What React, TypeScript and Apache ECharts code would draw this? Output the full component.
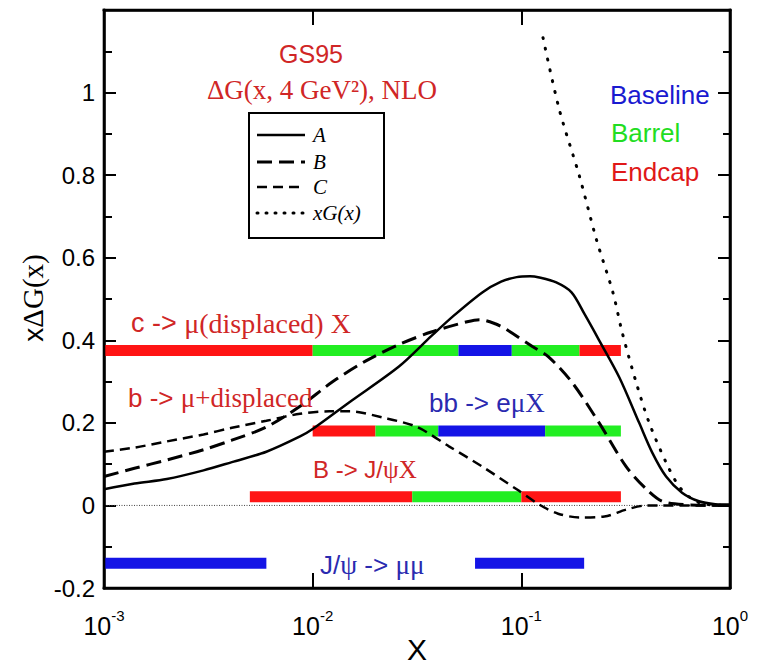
import React, { useEffect, useRef } from "react";
import * as echarts from "echarts";

// ---------- data ----------
const xTicks = [0.001, 0.01, 0.1, 1];
const yMin = -0.2;
const yMax = 1.2;
const yStep = 0.2;

const curveA: [number, number][] = [
  [0.001, 0.039], [0.0014, 0.053], [0.002, 0.064], [0.003, 0.085], [0.0041, 0.105],
  [0.006, 0.13], [0.0087, 0.167], [0.01, 0.185], [0.015, 0.25], [0.026, 0.337],
  [0.037, 0.41], [0.047, 0.458], [0.065, 0.516], [0.08, 0.542], [0.095, 0.553],
  [0.11, 0.555], [0.122, 0.552], [0.147, 0.54], [0.174, 0.516], [0.2, 0.465],
  [0.236, 0.4], [0.295, 0.31], [0.367, 0.2], [0.424, 0.128], [0.494, 0.07],
  [0.589, 0.031], [0.71, 0.01], [0.85, 0.003], [1, 0.002],
];
const curveB: [number, number][] = [
  [0.001, 0.07], [0.0014, 0.09], [0.002, 0.11], [0.003, 0.135], [0.0041, 0.158],
  [0.006, 0.19], [0.0087, 0.24], [0.0125, 0.3], [0.018, 0.35], [0.026, 0.39],
  [0.037, 0.42], [0.055, 0.445], [0.063, 0.45], [0.075, 0.44], [0.085, 0.426],
  [0.113, 0.385], [0.135, 0.36], [0.175, 0.298], [0.236, 0.2], [0.318, 0.094],
  [0.398, 0.039], [0.473, 0.01], [0.6, 0.002], [1, 0],
];
const curveC: [number, number][] = [
  [0.001, 0.13], [0.0014, 0.14], [0.002, 0.155], [0.003, 0.172], [0.0041, 0.188],
  [0.006, 0.205], [0.0087, 0.222], [0.012, 0.228], [0.015, 0.228], [0.0216, 0.213],
  [0.0316, 0.19], [0.045, 0.143], [0.065, 0.094], [0.095, 0.039], [0.122, 0.002],
  [0.15, -0.02], [0.19, -0.029], [0.25, -0.027], [0.318, -0.01], [0.4, 0], [1, 0],
];
const curveXG: [number, number][] = [
  [0.127, 1.133], [0.152, 0.959], [0.19, 0.797], [0.229, 0.644], [0.275, 0.515],
  [0.304, 0.42], [0.355, 0.298], [0.41, 0.2], [0.494, 0.104], [0.57, 0.046],
  [0.66, 0.015], [0.76, 0.003], [1, 0],
];
const zeroLine: [number, number][] = [[0.001, 0], [1, 0]];

// coverage bars: [xStart, xEnd, detector]  (L = Baseline, B = Barrel, E = Endcap)
const cMuY = 0.375;
const cMuSegments: [number, number, string][] = [
  [0.001, 0.01, "E"], [0.01, 0.05, "B"], [0.05, 0.09, "L"], [0.09, 0.19, "B"], [0.19, 0.3, "E"],
];
const bbY = 0.18;
const bbSegments: [number, number, string][] = [
  [0.01, 0.02, "E"], [0.02, 0.04, "B"], [0.04, 0.13, "L"], [0.13, 0.3, "B"],
];
const bJpsiY = 0.021;
const bJpsiSegments: [number, number, string][] = [
  [0.005, 0.03, "E"], [0.03, 0.1, "B"], [0.1, 0.3, "E"],
];
const jpsiY = -0.14;
const jpsiSegments: [number, number, string][] = [
  [0.001, 0.006, "L"], [0.06, 0.2, "L"],
];

const legendNames = ["A", "B", "C", "xG(x)"];
const legendDash: (number[] | null)[] = [null, [15, 7], [10, 6], [1, 8]];
const legendWidth = [2.5, 3, 2.5, 3];

const detColors: Record<string, string> = { L: "#1414e6", B: "#22ee22", E: "#ff1414" };

const SANS = "Liberation Sans";
const SERIF = "Liberation Serif";
const RED_TXT = "#d02626";
const BLUE_TXT = "#2a2ab0";

const GRID = { left: 104, right: 31, top: 10, bottom: 82 };
const W = 761, H = 670;

function barSeries(y: number, segs: [number, number, string][], key: string) {
  return segs.map((s, i) => ({
    name: `${key}-${i}`,
    type: "line",
    data: [[s[0], y], [s[1], y]],
    symbol: "none",
    silent: true,
    lineStyle: { color: detColors[s[2]], width: 11, cap: "butt" },
    z: 2,
  }));
}

function richText(x: number, y: number, text: string, color: string, size: number) {
  return {
    type: "text",
    x, y,
    style: {
      text,
      fill: color,
      align: "left",
      verticalAlign: "middle",
      rich: {
        s: { fontFamily: SANS, fontSize: size, fill: color },
        t: { fontFamily: SERIF, fontSize: size + 1, fill: color },
      },
    },
    z: 10,
  };
}

function legendGraphic() {
  const left = 249, top = 113, w = 135, h = 125;
  const rows = [135, 162, 187, 213];
  const els: any[] = [
    {
      type: "rect",
      shape: { x: left, y: top, width: w, height: h },
      style: { fill: "#fff", stroke: "#000", lineWidth: 2 },
      z: 20,
    },
  ];
  legendNames.forEach((n, i) => {
    els.push({
      type: "line",
      shape: { x1: left + 8, y1: rows[i], x2: left + 56, y2: rows[i] },
      style: {
        stroke: "#000",
        lineWidth: legendWidth[i],
        lineDash: legendDash[i] || undefined,
        lineCap: i === 3 ? "round" : "butt",
      },
      z: 21,
    });
    els.push({
      type: "text",
      x: left + 64, y: rows[i],
      style: {
        text: n,
        fill: "#000",
        fontFamily: SERIF,
        fontStyle: "italic",
        fontSize: 21,
        align: "left",
        verticalAlign: "middle",
      },
      z: 21,
    });
  });
  return els;
}

function frameGraphic() {
  const x0 = GRID.left, x1 = W - GRID.right;
  const y0 = GRID.top, y1 = H - GRID.bottom;
  const t = 2.6;
  const bar = (x: number, y: number, w: number, h: number) => ({
    type: "rect",
    shape: { x, y, width: w, height: h },
    style: { fill: "#000" },
    silent: true,
    z: 30,
  });
  return [
    bar(x0 - t / 2, y0 - t / 2, x1 - x0 + t, t),
    bar(x0 - t / 2, y1 - t / 2, x1 - x0 + t, t),
    bar(x0 - t / 2, y0 - t / 2, t, y1 - y0 + t),
    bar(x1 - t / 2, y0 - t / 2, t, y1 - y0 + t),
  ];
}

export default function App() {
  const ref = useRef<HTMLDivElement>(null);
  useEffect(() => {
    document.body.style.margin = "0";
    const chart = echarts.init(ref.current!, null, { renderer: "svg" });
    const axisLineStyle = { color: "#000", width: 2.5 };
    const option: any = {
      animation: false,
      backgroundColor: "#fff",
      grid: { ...GRID, containLabel: false, outerBoundsMode: "none" },
      xAxis: [
        {
          type: "log",
          logBase: 10,
          min: xTicks[0],
          max: xTicks[xTicks.length - 1],
          position: "bottom",
          name: "X",
          nameLocation: "middle",
          nameGap: 46,
          nameMoveOverlap: false,
          nameTextStyle: { fontFamily: SANS, fontSize: 30, lineHeight: 30, color: "#000" },
          axisLine: { show: true, onZero: false, lineStyle: axisLineStyle },
          axisTick: { inside: true, length: 15, lineStyle: { color: "#000", width: 2 } },
          splitLine: { show: false },
          axisLabel: {
            margin: 20,
            color: "#000",
            formatter: (v: number) => `{b|10}{s|${Math.round(Math.log10(v))}}`,
            rich: {
              b: { fontFamily: SANS, fontSize: 25, color: "#000", lineHeight: 30, verticalAlign: "bottom" },
              s: { fontFamily: SANS, fontSize: 15, color: "#000", lineHeight: 30, verticalAlign: "top" },
            },
          },
        },
        {
          type: "log",
          logBase: 10,
          min: xTicks[0],
          max: xTicks[xTicks.length - 1],
          position: "top",
          axisLine: { show: true, onZero: false, lineStyle: axisLineStyle },
          axisTick: { inside: true, length: 15, lineStyle: { color: "#000", width: 2 } },
          axisLabel: { show: false },
          splitLine: { show: false },
        },
      ],
      yAxis: [
        {
          type: "value",
          min: yMin,
          max: yMax,
          interval: yStep,
          position: "left",
          axisLine: { show: true, onZero: false, lineStyle: axisLineStyle },
          axisTick: { inside: true, length: 12, lineStyle: { color: "#000", width: 2 } },
          minorTick: { show: true, splitNumber: 2, length: 8, lineStyle: { color: "#000", width: 2 } },
          splitLine: { show: false },
          minorSplitLine: { show: false },
          axisLabel: {
            margin: 9,
            fontFamily: SANS,
            fontSize: 24,
            color: "#000",
            formatter: (v: number) => (Math.abs(v - yMax) < 1e-6 ? "" : String(Math.round(v * 10) / 10)),
          },
        },
        {
          type: "value",
          min: yMin,
          max: yMax,
          interval: yStep,
          position: "right",
          axisLine: { show: true, onZero: false, lineStyle: axisLineStyle },
          axisTick: { inside: true, length: 12, lineStyle: { color: "#000", width: 2 } },
          minorTick: { show: true, splitNumber: 2, length: 7, lineStyle: { color: "#000", width: 2 } },
          splitLine: { show: false },
          axisLabel: { show: false },
        },
      ],
      series: [
        {
          name: "zero",
          type: "line",
          data: zeroLine,
          symbol: "none",
          silent: true,
          lineStyle: { color: "#444", width: 1, type: [1, 1.5] },
          z: 1,
        },
        ...barSeries(cMuY, cMuSegments, "cmu"),
        ...barSeries(bbY, bbSegments, "bb"),
        ...barSeries(bJpsiY, bJpsiSegments, "bjpsi"),
        ...barSeries(jpsiY, jpsiSegments, "jpsi"),
        {
          name: "A",
          type: "line",
          data: curveA,
          symbol: "none",
          smooth: 0.3,
          lineStyle: { color: "#000", width: 2.5 },
          z: 5,
        },
        {
          name: "B",
          type: "line",
          data: curveB,
          symbol: "none",
          smooth: 0.3,
          lineStyle: { color: "#000", width: 3, type: [15, 7] },
          z: 5,
        },
        {
          name: "C",
          type: "line",
          data: curveC,
          symbol: "none",
          smooth: 0.3,
          lineStyle: { color: "#000", width: 2.5, type: [10, 6] },
          z: 5,
        },
        {
          name: "xG(x)",
          type: "line",
          data: curveXG,
          symbol: "none",
          smooth: 0.3,
          lineStyle: { color: "#000", width: 3, type: [1, 10], cap: "round" },
          z: 5,
        },
      ],
      graphic: [
        ...frameGraphic(),
        {
          type: "text",
          x: 311, y: 54,
          style: { text: "GS95", fill: RED_TXT, fontFamily: SANS, fontSize: 25, align: "center", verticalAlign: "middle" },
        },
        {
          type: "text",
          x: 322, y: 90,
          style: { text: "ΔG(x, 4 GeV²), NLO", fill: RED_TXT, fontFamily: SERIF, fontSize: 27, align: "center", verticalAlign: "middle" },
        },
        {
          type: "text",
          x: 610, y: 95,
          style: { text: "Baseline", fill: "#1a1ad0", fontFamily: SANS, fontSize: 26, align: "left", verticalAlign: "middle" },
        },
        {
          type: "text",
          x: 611, y: 133,
          style: { text: "Barrel", fill: "#22dd22", fontFamily: SANS, fontSize: 26, align: "left", verticalAlign: "middle" },
        },
        {
          type: "text",
          x: 611, y: 172,
          style: { text: "Endcap", fill: "#e01818", fontFamily: SANS, fontSize: 26, align: "left", verticalAlign: "middle" },
        },
        {
          type: "text",
          x: 33, y: 298,
          rotation: Math.PI / 2,
          style: {
            text: "{s|x}{t|ΔG(x)}",
            align: "center",
            verticalAlign: "middle",
            rich: {
              s: { fontFamily: SANS, fontSize: 28, fill: "#000" },
              t: { fontFamily: SERIF, fontSize: 29, fill: "#000" },
            },
          },
        },
        richText(131, 323, "{s|c -> }{t|μ(displaced) X}", RED_TXT, 27),
        richText(128, 398, "{s|b -> }{t|μ+displaced}", RED_TXT, 26),
        richText(429, 403, "{s|bb -> e}{t|μX}", BLUE_TXT, 26),
        richText(313, 469, "{s|B -> J/}{t|ψX}", RED_TXT, 24),
        richText(320, 565, "{s|J/}{t|ψ}{s| -> }{t|μμ}", BLUE_TXT, 26),
        ...legendGraphic(),
      ],
    };
    chart.setOption(option);
    return () => chart.dispose();
  }, []);
  return <div ref={ref} style={{ width: W, height: H }} />;
}
